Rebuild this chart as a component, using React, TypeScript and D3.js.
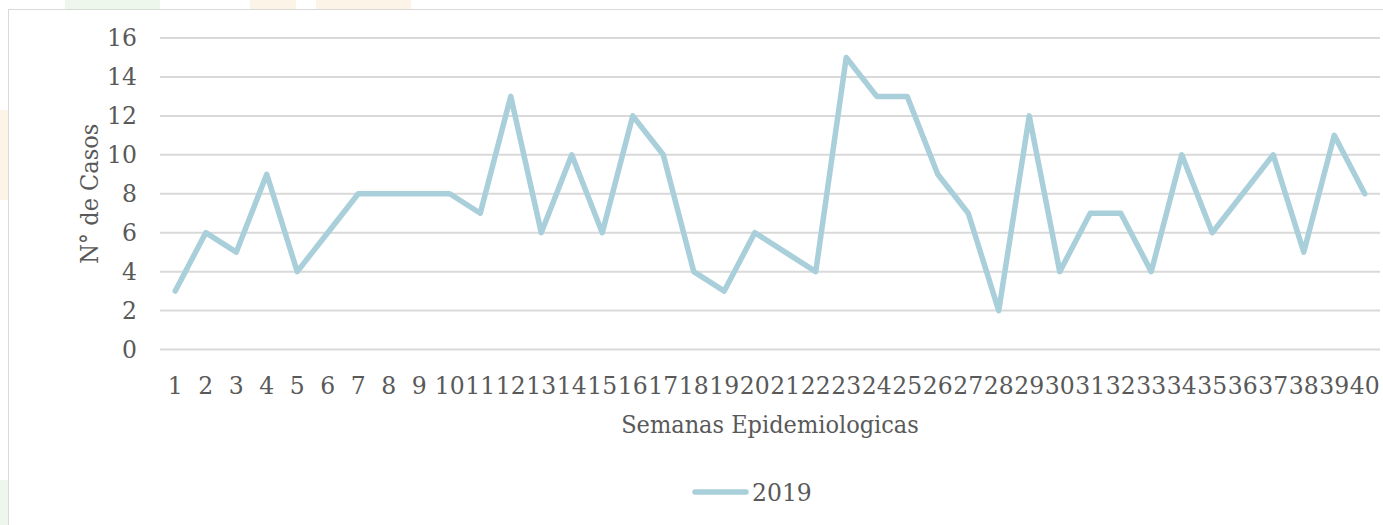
import React, { useEffect, useRef } from "react";
import * as d3 from "d3";

// semanas epidemiologicas 1..40
const weeks = d3.range(1, 41).map(String);
// casos 2019
const cases2019 = [
  3, 6, 5, 9, 4, 6, 8, 8, 8, 8, 7, 13, 6, 10, 6, 12, 10, 4, 3, 6, 5, 4, 15, 13, 13, 9, 7, 2, 12, 4, 7, 7, 4, 10, 6, 8,
  10, 5, 11, 8,
];
const yTicks = [0, 2, 4, 6, 8, 10, 12, 14, 16];
const seriesName = "2019";

const W = 1383;
const H = 525;
const FONT = "'DejaVu Serif', serif";
const FONT_C = "'DejaVu Serif Condensed', 'DejaVu Serif', serif";
const TEXT = "#595959";

const App = () => {
  const ref = useRef<SVGSVGElement>(null);

  useEffect(() => {
    const svg = d3.select(ref.current);
    const margin = { top: 38, right: 3, bottom: 175.5, left: 160 };
    const width = W - margin.left - margin.right;
    const height = H - margin.top - margin.bottom;

    // faint background leftovers
    const bg = svg.append("g");
    bg.append("rect").attr("x", 65).attr("y", 0).attr("width", 95).attr("height", 9).attr("fill", "#eef7ec");
    bg.append("rect").attr("x", 250).attr("y", 0).attr("width", 46).attr("height", 9).attr("fill", "#fdf4e8");
    bg.append("rect").attr("x", 316).attr("y", 0).attr("width", 95).attr("height", 9).attr("fill", "#fdf4e8");
    bg.append("rect").attr("x", 0).attr("y", 110).attr("width", 8).attr("height", 90).attr("fill", "#fdf4e8");
    bg.append("rect").attr("x", 0).attr("y", 480).attr("width", 8).attr("height", 45).attr("fill", "#eef7ec");

    svg
      .append("rect")
      .attr("x", 8.5)
      .attr("y", 9.5)
      .attr("width", W)
      .attr("height", H)
      .attr("fill", "none")
      .attr("stroke", "#d9d9d9")
      .attr("stroke-width", 1);

    const x = d3.scaleBand().domain(weeks).range([0, width]);
    const y = d3.scaleLinear().domain([0, 16]).range([height, 0]);

    const g = svg.append("g").attr("transform", `translate(${margin.left},${margin.top})`);

    // grid
    g.append("g")
      .selectAll("line")
      .data(yTicks)
      .enter()
      .append("line")
      .attr("x1", 0)
      .attr("x2", width)
      .attr("y1", (d) => y(d))
      .attr("y2", (d) => y(d))
      .attr("stroke", "#d9d9d9")
      .attr("stroke-width", 2);

    // y labels
    g.append("g")
      .selectAll("text")
      .data(yTicks)
      .enter()
      .append("text")
      .attr("x", -23)
      .attr("y", (d) => y(d))
      .attr("dy", "0.36em")
      .attr("text-anchor", "end")
      .attr("font-family", FONT)
      .attr("font-size", 23.5)
      .attr("fill", TEXT)
      .text((d) => d);

    // x labels
    g.append("g")
      .selectAll("text")
      .data(weeks)
      .enter()
      .append("text")
      .attr("x", (d) => x(d)! + x.bandwidth() / 2)
      .attr("y", height + 44)
      .attr("text-anchor", "middle")
      .attr("font-family", FONT)
      .attr("font-size", 23.5)
      .attr("fill", TEXT)
      .text((d) => d);

    const line = d3
      .line<number>()
      .x((_, i) => x(weeks[i])! + x.bandwidth() / 2)
      .y((d) => y(d));

    g.append("path")
      .datum(cases2019)
      .attr("d", line)
      .attr("fill", "none")
      .attr("stroke", "#a9cfdb")
      .attr("stroke-width", 5.5)
      .attr("stroke-linejoin", "round")
      .attr("stroke-linecap", "round");

    // axis titles
    svg
      .append("text")
      .attr("x", margin.left + width / 2)
      .attr("y", 433)
      .attr("text-anchor", "middle")
      .attr("font-family", FONT_C)
      .attr("font-size", 25)
      .attr("fill", TEXT)
      .text("Semanas Epidemiologicas");

    svg
      .append("text")
      .attr("transform", `translate(98,${margin.top + height / 2}) rotate(-90)`)
      .attr("text-anchor", "middle")
      .attr("font-family", FONT_C)
      .attr("font-size", 25)
      .attr("fill", TEXT)
      .text("N° de Casos");

    // legend
    const lg = svg.append("g");
    lg.append("line")
      .attr("x1", 695)
      .attr("x2", 746)
      .attr("y1", 492)
      .attr("y2", 492)
      .attr("stroke", "#a9cfdb")
      .attr("stroke-width", 5.5)
      .attr("stroke-linecap", "round");
    lg.append("text")
      .attr("x", 752)
      .attr("y", 500.5)
      .attr("font-family", FONT)
      .attr("font-size", 23.5)
      .attr("fill", TEXT)
      .text(seriesName);

    return () => {
      svg.selectAll("*").remove();
    };
  }, []);

  return (
    <svg
      ref={ref}
      width={W}
      height={H}
      style={{ position: "absolute", left: 0, top: 0, background: "#fff" }}
    ></svg>
  );
};

export default App;
